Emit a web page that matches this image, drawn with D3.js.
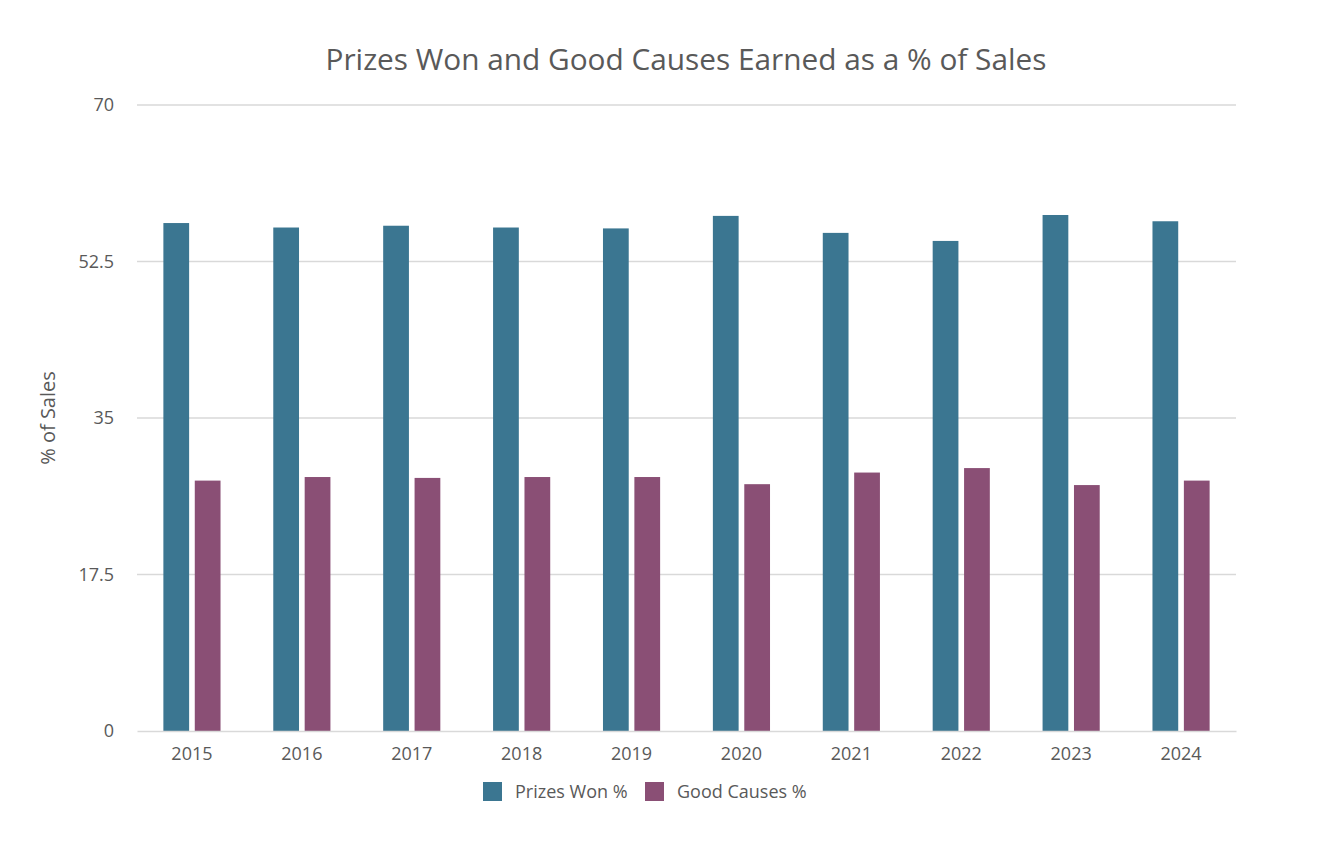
<!DOCTYPE html>
<html>
<head>
<meta charset="utf-8">
<script src="https://cdn.jsdelivr.net/npm/d3@7"></script>
<style>
  body { margin: 0; background: #fff; }
  text { font-family: "Open Sans", "Noto Sans", sans-serif; fill: #595959; }
</style>
</head>
<body>
<div id="viz"></div>
<script>
// data
var years = ["2015", "2016", "2017", "2018", "2019", "2020", "2021", "2022", "2023", "2024"];
var prizesWon = [56.8, 56.3, 56.5, 56.3, 56.2, 57.6, 55.7, 54.8, 57.7, 57.0];
var goodCauses = [28.0, 28.4, 28.3, 28.4, 28.4, 27.6, 28.9, 29.4, 27.5, 28.0];
var seriesNames = ["Prizes Won %", "Good Causes %"];
var yTicks = [0, 17.5, 35, 52.5, 70];

var colors = ["#3b7691", "#8a4f75"];

var W = 1324, H = 864;
var margin = {top: 105, right: 88, bottom: 133, left: 137},
    width = W - margin.left - margin.right,
    height = H - margin.top - margin.bottom;

var svg = d3.select("#viz")
  .append("svg")
    .attr("width", W)
    .attr("height", H);

var g = svg.append("g")
    .attr("transform", "translate(" + margin.left + "," + margin.top + ")");

// table for grouped bars
var rows = years.map(function(y, i) {
  return {year: y, values: [prizesWon[i], goodCauses[i]]};
});

var x0 = d3.scaleBand()
  .domain(years)
  .range([0, width])
  .paddingInner(0.48)
  .paddingOuter(0.24);

var x1 = d3.scaleBand()
  .domain([0, 1])
  .range([0, x0.bandwidth()])
  .paddingInner(0.18);

var y = d3.scaleLinear()
  .domain([0, 70])
  .range([height, 0]);

// gridlines
g.append("g")
  .selectAll("line")
  .data(yTicks.slice(1))
  .enter().append("line")
    .attr("x1", 0)
    .attr("x2", width)
    .attr("y1", function(d) { return y(d); })
    .attr("y2", function(d) { return y(d); })
    .attr("stroke", "#d9d9d9")
    .attr("stroke-width", 1.5);

// y axis labels
var yAxis = g.append("g")
  .call(d3.axisLeft(y).tickValues(yTicks).tickSize(0).tickPadding(23).tickFormat(function(d) { return d; }));
yAxis.select(".domain").remove();
yAxis.selectAll("text")
  .style("font-size", "18px")
  .style("fill", "#595959");

// bars
g.append("g")
  .selectAll("g")
  .data(rows)
  .enter().append("g")
    .attr("transform", function(d) { return "translate(" + x0(d.year) + ",0)"; })
  .selectAll("rect")
  .data(function(d) { return d.values.map(function(v, k) { return {k: k, v: v}; }); })
  .enter().append("rect")
    .attr("x", function(d) { return x1(d.k); })
    .attr("y", function(d) { return y(d.v); })
    .attr("width", x1.bandwidth())
    .attr("height", function(d) { return y(0) - y(d.v); })
    .attr("fill", function(d) { return colors[d.k]; });

// x axis
var xAxis = g.append("g")
  .attr("transform", "translate(0," + height + ")")
  .call(d3.axisBottom(x0).tickSize(0).tickPadding(16));
xAxis.select(".domain")
  .attr("stroke", "#d9d9d9")
  .attr("stroke-width", 1.5);
xAxis.selectAll("text")
  .style("font-size", "18px")
  .style("fill", "#595959");

// title
svg.append("text")
  .attr("x", 686)
  .attr("y", 70)
  .attr("text-anchor", "middle")
  .style("font-size", "29.8px")
  .text("Prizes Won and Good Causes Earned as a % of Sales");

// y axis title
svg.append("text")
  .attr("transform", "translate(55,418) rotate(-90)")
  .attr("text-anchor", "middle")
  .style("font-size", "20px")
  .text("% of Sales");

// legend
var legendX = [483, 645];
var leg = svg.append("g")
  .selectAll("g")
  .data(seriesNames)
  .enter().append("g")
    .attr("transform", function(d, i) { return "translate(" + legendX[i] + ",782)"; });
leg.append("rect")
  .attr("width", 19)
  .attr("height", 19)
  .attr("fill", function(d, i) { return colors[i]; });
leg.append("text")
  .attr("x", 32)
  .attr("y", 16)
  .style("font-size", "18px")
  .text(function(d) { return d; });
</script>
</body>
</html>
